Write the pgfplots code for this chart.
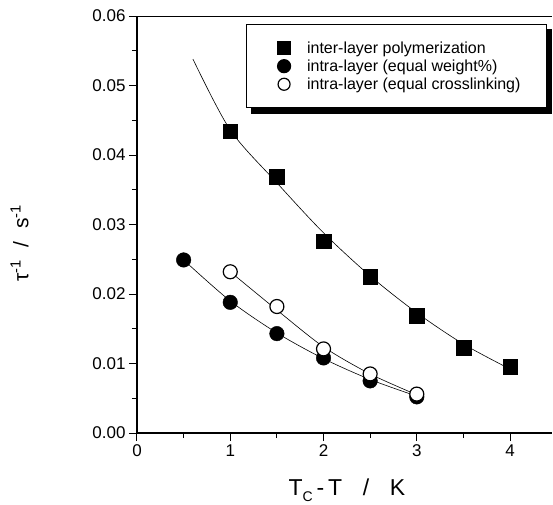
\documentclass[border=0pt]{standalone}
\usepackage{fontspec}
\setmainfont{Liberation Sans}
\usepackage{pgfplots}
\pgfplotsset{compat=1.18}
\pgfplotstableread{
x y
1.0 0.0434
1.5 0.0369
2.0 0.0276
2.5 0.0225
3.0 0.0169
3.5 0.0123
4.0 0.0095
}\inter
\pgfplotstableread{
x y
0.5 0.0249
1.0 0.0188
1.5 0.0143
2.0 0.0108
2.5 0.0075
3.0 0.0052
}\intraw
\pgfplotstableread{
x y
1.0 0.0232
1.5 0.0182
2.0 0.0121
2.5 0.0085
3.0 0.0056
}\intrac
\begin{document}
\begin{tikzpicture}
\begin{axis}[
  at={(0,0)}, anchor=origin,
  scale only axis, width=415pt, height=417pt,
  xmin=0, xmax=4.45, ymin=0, ymax=0.06,
  axis lines*=left, axis line style={-, line width=1.2pt},
  xtick={0,1,2,3,4}, minor x tick num=1,
  ytick={0,0.01,0.02,0.03,0.04,0.05,0.06}, minor y tick num=1,
  tick align=outside, major tick length=8pt, minor tick length=5pt,
  tick style={line width=1pt, black},
  scaled y ticks=false,
  /pgf/number format/assume math mode=true,
  yticklabel style={/pgf/number format/.cd, fixed, fixed zerofill, precision=2},
  ticklabel style={font=\fontsize{17}{20}\selectfont},
  xlabel={T\raisebox{-0.45ex}{\fontsize{14}{14}\selectfont C}\,-\,T\hspace{0.9em}/\hspace{0.9em}K},
  xlabel style={font=\fontsize{23}{26}\selectfont, at={(axis description cs:0.506,-0.137)}, anchor=center},
  ylabel={τ\textsuperscript{-1}\hspace{0.6em}/\hspace{0.6em}s\textsuperscript{-1}},
  ylabel style={font=\fontsize{21}{24}\selectfont, at={(axis description cs:-0.283,0.455)}, anchor=center},
  legend style={name=leg, at={(rel axis cs:0.2626,0.981)}, anchor=north west, draw=black, line width=1.2pt,
    fill=white, font=\fontsize{16}{18}\selectfont, inner xsep=26pt, inner ysep=17pt,
    row sep=5pt, column sep=0pt, nodes={inner sep=0pt}},
  legend cell align=left,
]
\draw[line width=1.2pt] (rel axis cs:0,1) -- (rel axis cs:1,1);
\addplot[black, line width=0.6pt, smooth, forget plot] coordinates {
(0.6,0.0538) (1.0,0.0436) (1.5,0.0360) (2.0,0.0288) (2.5,0.0226) (3.0,0.0173) (3.5,0.0128) (4.0,0.0092)};
\addplot[black, line width=0.6pt, smooth, forget plot] coordinates {
(0.5,0.0249) (1.0,0.0190) (1.5,0.0144) (2.0,0.0107) (2.5,0.0077) (3.0,0.0053)};
\addplot[black, line width=0.6pt, smooth, forget plot] coordinates {
(1.0,0.0232) (1.5,0.0177) (2.0,0.0124) (2.5,0.0085) (3.0,0.0055)};
\addplot[only marks, mark=square*, mark size=7.3pt, mark options={fill=black, draw=black},
  legend image code/.code={\path[draw=none, fill=none] (-11.5pt,0pt) rectangle (23pt,0pt); \draw[mark=square*, mark size=6.3pt, fill=black] plot coordinates {(0pt,0pt)};}] table {\inter};
\addlegendentry{inter-layer polymerization}
\addplot[only marks, mark=*, mark size=7.3pt, mark options={fill=black, draw=black},
  legend image code/.code={\path[draw=none, fill=none] (-11.5pt,0pt) rectangle (23pt,0pt); \draw[mark=*, mark size=6.5pt, fill=black] plot coordinates {(0pt,0pt)};}] table {\intraw};
\addlegendentry{intra-layer (equal weight\%)}
\addplot[only marks, mark=*, mark size=7pt, mark options={fill=white, draw=black, line width=1.2pt},
  legend image code/.code={\path[draw=none, fill=none] (-11.5pt,0pt) rectangle (23pt,0pt); \draw[mark=*, mark size=6pt, fill=white, line width=1.2pt] plot coordinates {(0pt,0pt)};}] table {\intrac};
\addlegendentry{intra-layer (equal crosslinking)}
\end{axis}
\fill[black] ([xshift=5pt]leg.south west) rectangle ([xshift=5pt,yshift=-6pt]leg.south east);
\fill[black] ([yshift=-5pt]leg.north east) rectangle ([xshift=5pt,yshift=-6pt]leg.south east);
\pgfresetboundingbox
\path[use as bounding box] (-137pt,-71pt) rectangle (416pt,433pt);
\end{tikzpicture}
\end{document}
